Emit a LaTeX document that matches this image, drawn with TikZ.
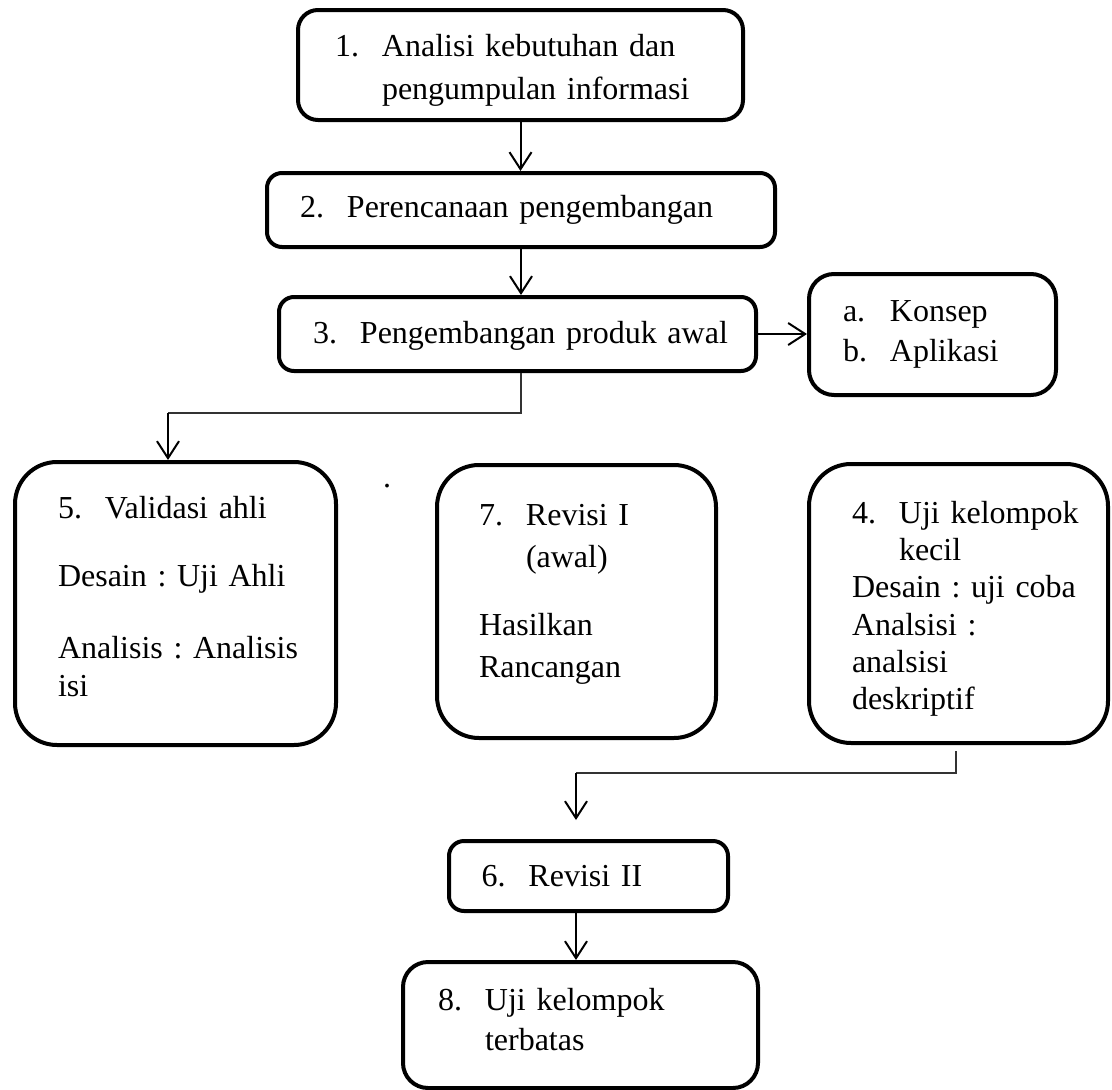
\documentclass[tikz,border=0pt]{standalone}
\usepackage{fontspec}
\setmainfont{Liberation Serif}
\usetikzlibrary{arrows.meta, positioning}
\frenchspacing

\newcommand{\nitem}[2]{\mbox{\makebox[47pt][l]{#1}#2}}
\newcommand{\ncont}[1]{\mbox{\hspace*{47pt}#1}}
\newcommand{\nline}[1]{\mbox{#1}}

\tikzset{
  stepbox/.style={draw=black, line width=4pt, rounded corners=#1, align=left, inner ysep=0pt, font=\fontsize{32}{38}\selectfont},
  stepbox/.default=20pt,
  conn/.style={line width=2pt, -{Straight Barb[length=17pt, width=22pt]}},
  thinline/.style={line width=1.3pt, black!80}
}

\begin{document}
\begin{tikzpicture}[x=1pt, y=-1pt]
  \useasboundingbox (0,0) rectangle (1112,1090);

  % Step 1
  \node[stepbox=20pt, minimum width=445pt, minimum height=110pt, text width=371pt, inner xsep=37pt] (n1) at (520.5,65) {
    \rule{0pt}{32pt}\nitem{1.}{Analisi kebutuhan dan}\\[5pt]
    \ncont{pengumpulan informasi}
  };

  % Step 2
  \node[stepbox=15pt, minimum width=508pt, minimum height=74pt, text width=442pt, inner xsep=33pt] (n2) at (521,210) {
    \nitem{2.}{Perencanaan pengembangan}
  };

  % Step 3
  \node[stepbox=15pt, minimum width=477pt, minimum height=74pt, text width=409pt, inner xsep=34pt] (n3) at (517.5,334) {
    \rule[-3pt]{0pt}{28pt}\nitem{3.}{Pengembangan produk awal}
  };

  % Konsep dan aplikasi
  \node[stepbox=25pt, minimum width=247pt, minimum height=121pt, text width=179pt, inner xsep=34pt] (nab) at (932.5,334.5) {
    \nitem{a.}{Konsep}\\[2pt]
    \nitem{b.}{Aplikasi}
  };

  % Validasi ahli
  \node[stepbox=42pt, minimum width=321pt, minimum height=283pt, text width=235pt, inner xsep=43pt] (n5) at (175.5,603.5) {
    \nitem{5.}{Validasi ahli}\\[30pt]
    \nline{Desain : Uji Ahli}\\[34pt]
    \nline{Analisis : Analisis}\\
    \nline{isi}\rule[-14pt]{0pt}{0pt}
  };

  \node[font=\fontsize{32}{38}\selectfont, inner sep=0pt] (dot) at (387,486) {.};

  % Revisi I
  \node[stepbox=42pt, minimum width=279pt, minimum height=273pt, text width=195pt, inner xsep=42pt] (n7) at (576.5,601.5) {
    \nitem{7.}{Revisi I}\\[4pt]
    \ncont{(awal)}\\[30pt]
    \nline{Hasilkan}\\[4pt]
    \nline{Rancangan}\rule[-22pt]{0pt}{0pt}
  };

  % Uji kelompok kecil
  \node[stepbox=42pt, minimum width=299pt, minimum height=279pt, text width=213pt, inner xsep=43pt] (n4) at (958.5,603.5) {
    \rule{0pt}{32pt}\nitem{4.}{Uji kelompok}\\[-1pt]
    \ncont{kecil}\\[-1pt]
    \nline{Desain : uji coba}\\[0pt]
    \nline{Analsisi :}\\[-1pt]
    \nline{analsisi}\\[-1pt]
    \nline{deskriptif}
  };

  % Revisi II
  \node[stepbox=15pt, minimum width=279pt, minimum height=70pt, text width=214pt, inner xsep=32.5pt] (n6) at (588.5,876) {
    \nitem{6.}{Revisi II}
  };

  % Uji kelompok terbatas
  \node[stepbox=25pt, minimum width=355pt, minimum height=126pt, text width=285pt, inner xsep=35pt] (n8) at (580.5,1025) {
    \nitem{8.}{Uji kelompok}\\[2pt]
    \ncont{terbatas}\rule[-12pt]{0pt}{0pt}
  };

  % connectors
  \draw[conn] (n1.south) -- (n1.south |- n2.north);
  \draw[conn] (n2.south) -- (n2.south |- n3.north);
  \draw[conn] (n3.east) -- (n3.east -| nab.west);

  \coordinate (bend3) at (521,413);
  \coordinate (bend5) at (168,413);
  \draw[thinline] (n3.south -| bend3) -- (bend3) -- (bend5);
  \draw[conn] (bend5) -- (bend5 |- n5.north);

  \coordinate (bend4) at (956,773);
  \coordinate (bend6) at (576,773);
  \draw[thinline] ([yshift=-6pt]n4.south -| bend4) -- (bend4) -- (bend6);
  \draw[conn, shorten >=19pt] (bend6) -- (bend6 |- n6.north);
  \draw[conn] (bend6 |- n6.south) -- (bend6 |- n8.north);
\end{tikzpicture}
\end{document}
